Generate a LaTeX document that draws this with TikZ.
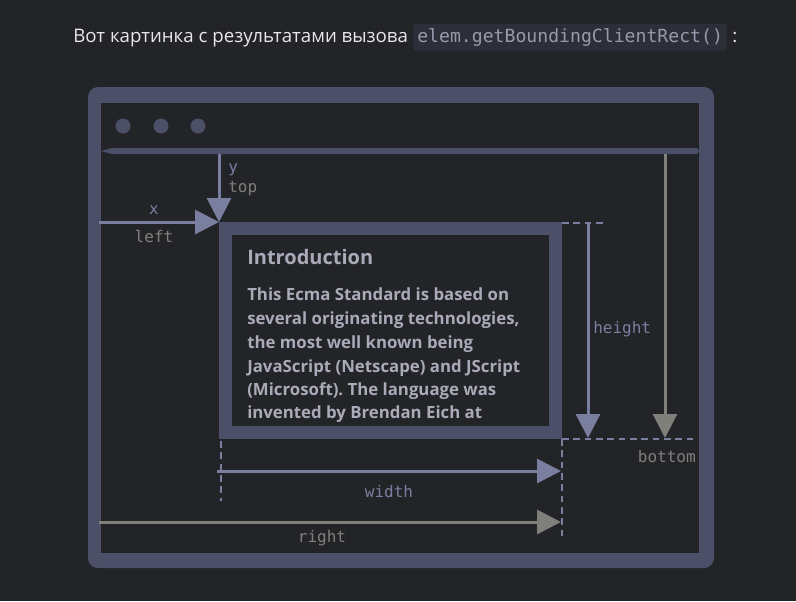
\documentclass[tikz,border=0pt]{standalone}
\usepackage{fontspec}
\setmainfont{Open Sans}
\newfontfamily\monof{DejaVu Sans Mono}
\usetikzlibrary{arrows.meta}
\definecolor{bgc}{RGB}{35,36,40}
\definecolor{framec}{RGB}{76,79,104}
\definecolor{bluec}{RGB}{122,127,160}
\definecolor{grayc}{RGB}{128,128,122}
\definecolor{txtc}{RGB}{170,170,184}
\definecolor{codebg}{RGB}{45,47,56}
\definecolor{codec}{RGB}{150,155,172}
\definecolor{headc}{RGB}{232,232,232}
\frenchspacing
\begin{document}
\begin{tikzpicture}[x=0.75pt,y=-0.75pt,
  lbl/.style={font=\monof\fontsize{12}{14}\selectfont, inner sep=0},
  bodyl/.style={font=\bfseries\fontsize{12.6}{15}\selectfont, text=txtc, inner sep=0, anchor=base west},
  bluearrow/.style={draw=bluec, line width=2.25pt, -{Triangle[length=18pt,width=18pt]}},
  grayarrow/.style={draw=grayc, line width=2.25pt, -{Triangle[length=18pt,width=18pt]}},
  dashline/.style={draw=bluec, line width=1.5pt, dash pattern=on 5pt off 3.5pt}
]
\fill[bgc] (0,0) rectangle (796,601);
\useasboundingbox (0,0) rectangle (796,601);

% heading
\node[anchor=base west, text=headc, font=\fontsize{14}{17}\selectfont, inner sep=0] (title) at (73,42) {Вот картинка с результатами вызова};
\node[anchor=base west, fill=codebg, rounded corners=2pt, text=codec, font=\monof\fontsize{13.6}{16}\selectfont,
      inner xsep=3pt, inner ysep=3.3pt, text height=10.5pt, text depth=3.2pt] (code) at (413,42) {elem.getBoundingClientRect()};
\node[anchor=base west, text=headc, font=\fontsize{14}{17}\selectfont, inner sep=0] (colon) at (732,42) {:};

% window frame
\fill[framec, rounded corners=7.5pt] (88,87) rectangle (714,568);
\fill[bgc] (101,103) rectangle (699,553);
\fill[framec] (123,126) circle[radius=5.6pt];
\fill[framec] (161,126) circle[radius=5.6pt];
\fill[framec] (198,126) circle[radius=5.6pt];
\fill[framec] (101,151) -- (112,148) -- (697,148) -- (699,151) -- (697,154) -- (112,154) -- cycle;

% element box
\node[draw=framec, line width=9.75pt, minimum width=247.5pt, minimum height=153pt, inner sep=0, outer sep=0, anchor=north west] (el) at (225.5,228.5) {};
\node[font=\bfseries\fontsize{15}{18}\selectfont, text=txtc, inner sep=0, anchor=base west] (intro) at (247,264) {Introduction};
\node[bodyl] (l1) at (247,300) {This Ecma Standard is based on};
\node[bodyl] (l2) at (247,324) {several originating technologies,};
\node[bodyl] (l3) at (247,348) {the most well known being};
\node[bodyl] (l4) at (247,372) {JavaScript (Netscape) and JScript};
\node[bodyl] (l5) at (247,395) {(Microsoft). The language was};
\node[bodyl] (l6) at (247,418) {invented by Brendan Eich at};

% coordinates
\coordinate (topS) at (219,154);
\coordinate (cornerTL) at (219,222);
\coordinate (leftS) at (99,222);
\coordinate (hS) at (588,223);
\coordinate (hE) at (588,438);
\coordinate (bS) at (665,154);
\coordinate (bE) at (665,438);
\coordinate (wS) at (217,471);
\coordinate (wE) at (561,471);
\coordinate (rS) at (99,522);
\coordinate (rE) at (561,522);
\coordinate (d1a) at (562,223);
\coordinate (d1b) at (605,223);
\coordinate (d2a) at (562,439);
\coordinate (d2b) at (695,439);
\coordinate (d3a) at (221,441);
\coordinate (d3b) at (221,501);
\coordinate (d4b) at (562,537);

% dashed guides
\draw[dashline] (d1a) -- (d1b);
\draw[dashline] (d2a) -- (d2b);
\draw[dashline] (d3a) -- (d3b);
\draw[dashline] (d2a) -- (d4b);

% arrows
\draw[bluearrow] (topS) -- (cornerTL);
\draw[bluearrow] (leftS) -- (cornerTL);
\draw[bluearrow] (hS) -- (hE);
\draw[grayarrow] (bS) -- (bE);
\draw[bluearrow] (wS) -- (wE);
\draw[grayarrow] (rS) -- (rE);

% labels
\node[lbl, text=bluec, anchor=base] (xl) at (154,214) {x};
\node[lbl, text=grayc, anchor=base] (leftl) at (154,242) {left};
\node[lbl, text=bluec, anchor=base west] (yl) at (228,172) {y};
\node[lbl, text=grayc, anchor=base west] (topl) at (228,192) {top};
\node[lbl, text=bluec, anchor=base west] (hl) at (593,333) {height};
\node[lbl, text=grayc, anchor=base east] (bl) at (696,462) {bottom};
\node[lbl, text=bluec, anchor=base] (wl) at (389,497) {width};
\node[lbl, text=grayc, anchor=base] (rl) at (322,542) {right};
\end{tikzpicture}
\end{document}
